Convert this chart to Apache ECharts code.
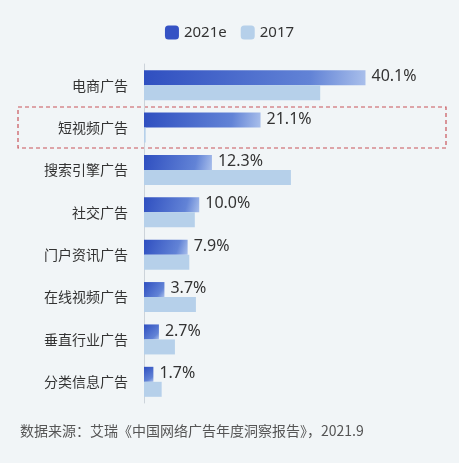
<!DOCTYPE html><html><head><meta charset="utf-8"><script src="https://cdn.jsdelivr.net/npm/echarts@6/dist/echarts.min.js"></script>
<style>html,body{margin:0;background:#f1f5f7}#c{width:459px;height:463px}</style></head><body><div id="c"></div><script>
const categories=['电商广告','短视频广告','搜索引擎广告','社交广告','门户资讯广告','在线视频广告','垂直行业广告','分类信息广告'];
const v2021=[40.1,21.1,12.3,10.0,7.9,3.7,2.7,1.7];
const v2017=[31.9,0.3,26.6,9.2,8.2,9.4,5.6,3.2];
const ch=echarts.init(document.getElementById('c'));
const dark=new echarts.graphic.LinearGradient(0,0,1,1,[{offset:0,color:'#2f4fc0'},{offset:0.75,color:'#6283d6'},{offset:1,color:'#a9bfeb'}]);
ch.setOption({backgroundColor:'#f1f5f7',animation:false,
legend:{top:20,left:'center',itemWidth:14,itemHeight:14,itemGap:14,textStyle:{fontSize:15,color:'#333',fontFamily:'Noto Sans'},data:[{name:'2021e',itemStyle:{color:'#3552c4'}},{name:'2017',itemStyle:{color:'#b6d0ea'}}]},
grid:{left:144,right:30,top:64,bottom:60,containLabel:false},
xAxis:{type:'value',min:0,max:51.6,show:false},
yAxis:{type:'category',inverse:true,data:categories,axisTick:{show:false},axisLine:{lineStyle:{color:'#ccd3da'}},axisLabel:{fontSize:14,color:'#333',margin:16,fontFamily:'Noto Sans CJK SC'}},
series:[{name:'2021e',type:'bar',data:v2021,barWidth:15,barGap:'0%',itemStyle:{color:dark},
label:{show:true,position:'right',distance:6,formatter:p=>p.value.toFixed(1)+'%',fontSize:16,color:'#333',fontFamily:'Noto Sans',offset:[0,-1]}},
{name:'2017',type:'bar',data:v2017,barWidth:15,itemStyle:{color:'#b6d0ea'}}],
graphic:[{type:'rect',shape:{x:18,y:107,width:428,height:41},style:{fill:'none',stroke:'#c9545a',lineWidth:1.2,lineDash:[4,3]}},
{type:'text',left:20,top:424,style:{text:'数据来源：艾瑞《中国网络广告年度洞察报告》，2021.9',fontSize:14,fill:'#555',fontFamily:'Noto Sans CJK SC'}}]
});
</script></body></html>
